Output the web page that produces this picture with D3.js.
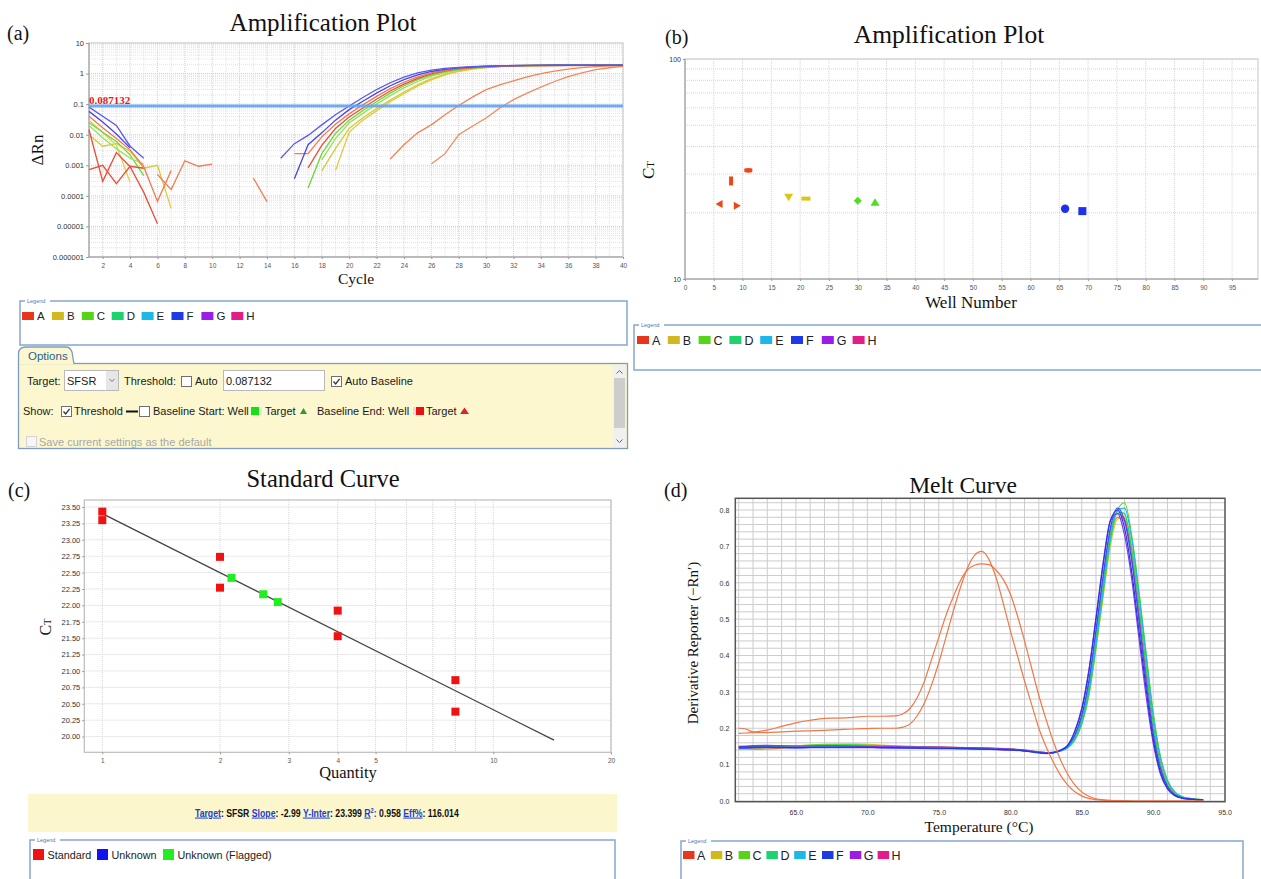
<!DOCTYPE html>
<html>
<head>
<meta charset="utf-8">
<script src="https://cdn.jsdelivr.net/npm/d3@7"></script>
<style>
body { margin: 0; background: #fff; }
svg { display: block; font-family: "Liberation Sans", Arial, sans-serif; }
.serif { font-family: "Liberation Serif", "Times New Roman", serif; fill: #111; }
</style>
</head>
<body>
<svg id="fig" width="1261" height="879"></svg>
<script>
// ---- shared legend ----
var wellLetters = ["A", "B", "C", "D", "E", "F", "G", "H"];
var wellColors = ["#e8361c", "#d2b81c", "#56d41c", "#1cd46e", "#1cb8e8", "#1c3ae6", "#9a1ce6", "#e41c8a"];

// ---- (a) amplification plot, ΔRn per cycle (each series starts at the cycle noted) ----
var cycleTicks = d3.range(2, 41, 2);
var drnTicks = [1e-6, 1e-5, 1e-4, 1e-3, 1e-2, 1e-1, 1, 10];
var threshold = 0.087132;

var ampF1 = [0.0017, 0.0051, 0.0095, 0.021, 0.045, 0.087, 0.165, 0.30, 0.50, 0.77, 1.06, 1.30, 1.48, 1.60, 1.70, 1.77, 1.81, 1.84, 1.86, 1.87, 1.88, 1.88, 1.89, 1.89, 1.90, 1.90]; // from 15
var ampF2 = [0.00036, 0.0047, 0.0115, 0.03, 0.066, 0.125, 0.23, 0.40, 0.63, 0.90, 1.17, 1.38, 1.53, 1.64, 1.72, 1.78, 1.82, 1.85, 1.86, 1.87, 1.88, 1.88, 1.89, 1.89, 1.89]; // from 16
var ampA1 = [0.0024, 0.0024, 0.0085, 0.022, 0.048, 0.095, 0.18, 0.32, 0.52, 0.78, 1.05, 1.28, 1.45, 1.57, 1.66, 1.72, 1.76, 1.79, 1.80, 1.81, 1.81, 1.82, 1.82, 1.82, 1.82]; // from 16
var ampA2 = [0.00082, 0.0045, 0.016, 0.038, 0.075, 0.145, 0.27, 0.45, 0.70, 0.98, 1.22, 1.42, 1.56, 1.66, 1.73, 1.78, 1.81, 1.83, 1.84, 1.85, 1.85, 1.85, 1.85, 1.85]; // from 17
var ampC1 = [0.00018, 0.0024, 0.011, 0.03, 0.062, 0.12, 0.23, 0.40, 0.63, 0.90, 1.15, 1.37, 1.53, 1.65, 1.74, 1.80, 1.84, 1.86, 1.88, 1.89, 1.89, 1.90, 1.90, 1.90]; // from 17
var ampC2 = [0.0015, 0.0075, 0.024, 0.05, 0.10, 0.19, 0.34, 0.55, 0.82, 1.08, 1.32, 1.50, 1.63, 1.72, 1.79, 1.83, 1.86, 1.88, 1.89, 1.90, 1.90, 1.90, 1.91]; // from 18
var ampB1 = [0.00066, 0.0035, 0.016, 0.036, 0.07, 0.135, 0.25, 0.43, 0.68, 0.96, 1.22, 1.43, 1.58, 1.70, 1.78, 1.83, 1.87, 1.89, 1.90, 1.91, 1.92, 1.92, 1.92]; // from 18
var ampB2 = [0.00068, 0.012, 0.03, 0.06, 0.12, 0.22, 0.39, 0.62, 0.90, 1.17, 1.40, 1.56, 1.68, 1.77, 1.83, 1.87, 1.89, 1.91, 1.92, 1.93, 1.93, 1.93]; // from 19
var ampA3 = [0.0016, 0.0047, 0.0115, 0.021, 0.045, 0.09, 0.17, 0.30, 0.43, 0.58, 0.78, 1.00, 1.20, 1.40, 1.57, 1.70, 1.79, 1.85]; // from 23
var ampA4 = [0.0011, 0.0024, 0.01, 0.019, 0.035, 0.075, 0.14, 0.23, 0.36, 0.55, 0.80, 1.06, 1.34, 1.55, 1.73]; // from 26
// early-cycle noise pieces
var noiseF1 = [0.08, 0.04, 0.02, 0.0042, 0.0017];
var noiseF2 = [0.058, 0.026, 0.0105, 0.0037];
var noiseA1 = [0.04, 0.017, 0.0075, 0.0032, 0.0009, 0.000066, 0.00068];
var noiseA2 = [0.0145, 0.0003, 0.0026, 0.0009, 0.00013, 0.0000122];
var noiseA3 = [0.00072, 0.001, 0.00025, 0.00093, 0.0008];
var noiseA4 = [0.0005, 0.00016, 0.0014, 0.00093, 0.0011]; // from 6
var noiseA5 = [0.00038, 0.000065]; // from 13
var noiseB1 = [0.01, 0.0042, 0.0051, 0.0029, 0.0008, 0.001, 0.000039];
var noiseB2 = [0.03, 0.012, 0.0045, 0.00028];
var noiseC1 = [0.025, 0.012, 0.006, 0.0022, 0.00046];
var noiseC2 = [0.02, 0.008, 0.0035, 0.0017, 0.0011];

// ---- (b) Ct by well ----
var ctWells = [6, 8, 9, 11, 18, 21, 30, 33, 66, 69];
var ctValues = [21.9, 27.9, 21.5, 31.2, 23.5, 23.2, 22.7, 22.3, 20.85, 20.35];
var ctRows = ["A", "A", "A", "A", "B", "B", "C", "C", "F", "F"];
var wellTicks = d3.range(0, 100, 5);

// ---- (c) standard curve ----
var stdQty = [1, 1, 2, 2, 4, 4, 8, 8];
var stdCt = [23.43, 23.30, 22.74, 22.27, 21.92, 21.53, 20.86, 20.38];
var flagQty = [2.14, 2.58, 2.81];
var flagCt = [22.42, 22.17, 22.05];
var fitSlope = -2.99, fitInter = 23.399, fitR2 = 0.958, fitEff = 116.014;
var fitQtyEnd = 14.3;
var qtyTicks = [1, 2, 3, 4, 5, 10, 20];
var ctTicks = d3.range(20, 23.51, 0.25);
var sampleTypes = ["Standard", "Unknown", "Unknown (Flagged)"];
var sampleColors = ["#f01212", "#1212f0", "#20ee20"];

// ---- (d) melt curve ----
var meltT = [61, 63, 65, 67, 69, 71, 73, 75, 77, 79, 81, 82, 82.5, 83, 83.5, 84, 84.5, 85, 85.5, 86, 86.5, 87, 87.5, 88, 88.5, 89, 89.5, 90, 90.5, 91, 91.5, 92, 93, 93.5];
var meltF1 = [0.148, 0.149, 0.147, 0.148, 0.148, 0.147, 0.146, 0.145, 0.144, 0.142, 0.138, 0.133, 0.131, 0.133, 0.139, 0.152, 0.19, 0.25, 0.355, 0.50, 0.65, 0.77, 0.80, 0.75, 0.63, 0.47, 0.31, 0.17, 0.08, 0.035, 0.015, 0.008, 0.004, 0.003];
var meltF2 = [0.145, 0.147, 0.146, 0.147, 0.147, 0.146, 0.145, 0.144, 0.143, 0.141, 0.137, 0.132, 0.130, 0.132, 0.138, 0.15, 0.18, 0.235, 0.33, 0.47, 0.62, 0.75, 0.805, 0.77, 0.66, 0.50, 0.33, 0.185, 0.09, 0.04, 0.018, 0.009, 0.004, 0.003];
var meltE = [0.146, 0.148, 0.147, 0.149, 0.149, 0.148, 0.147, 0.145, 0.144, 0.142, 0.138, 0.134, 0.132, 0.133, 0.137, 0.146, 0.17, 0.215, 0.30, 0.43, 0.58, 0.72, 0.80, 0.805, 0.72, 0.57, 0.40, 0.235, 0.12, 0.055, 0.025, 0.012, 0.005, 0.003];
var meltC = [0.143, 0.150, 0.152, 0.156, 0.155, 0.152, 0.149, 0.147, 0.146, 0.144, 0.139, 0.135, 0.133, 0.134, 0.138, 0.145, 0.165, 0.21, 0.29, 0.42, 0.57, 0.71, 0.80, 0.82, 0.73, 0.58, 0.41, 0.245, 0.125, 0.058, 0.026, 0.012, 0.005, 0.003];
var meltD = [0.147, 0.149, 0.150, 0.153, 0.153, 0.151, 0.148, 0.146, 0.145, 0.143, 0.138, 0.134, 0.132, 0.133, 0.138, 0.148, 0.175, 0.225, 0.315, 0.45, 0.60, 0.735, 0.795, 0.79, 0.69, 0.54, 0.37, 0.21, 0.10, 0.045, 0.02, 0.01, 0.004, 0.003];
var meltB = [0.141, 0.146, 0.150, 0.155, 0.157, 0.154, 0.150, 0.148, 0.147, 0.145, 0.140, 0.135, 0.133, 0.134, 0.138, 0.146, 0.168, 0.21, 0.29, 0.42, 0.56, 0.70, 0.775, 0.78, 0.70, 0.56, 0.40, 0.24, 0.12, 0.055, 0.024, 0.011, 0.005, 0.003];
var meltA = [0.142, 0.143, 0.148, 0.152, 0.154, 0.152, 0.150, 0.148, 0.146, 0.144, 0.139, 0.134, 0.132, 0.133, 0.138, 0.147, 0.172, 0.22, 0.305, 0.435, 0.585, 0.72, 0.78, 0.77, 0.68, 0.53, 0.37, 0.215, 0.105, 0.048, 0.021, 0.01, 0.004, 0.003];
var meltG = [0.150, 0.153, 0.151, 0.152, 0.151, 0.150, 0.149, 0.148, 0.147, 0.145, 0.140, 0.135, 0.133, 0.134, 0.140, 0.152, 0.19, 0.255, 0.36, 0.505, 0.655, 0.77, 0.79, 0.73, 0.61, 0.45, 0.29, 0.16, 0.075, 0.033, 0.015, 0.008, 0.004, 0.003];
var meltH = [0.149, 0.151, 0.150, 0.153, 0.152, 0.151, 0.149, 0.148, 0.146, 0.144, 0.139, 0.134, 0.132, 0.133, 0.139, 0.149, 0.178, 0.23, 0.32, 0.46, 0.61, 0.74, 0.79, 0.775, 0.67, 0.515, 0.35, 0.20, 0.095, 0.042, 0.019, 0.009, 0.004, 0.002];
// the two low-Tm wells
var meltTLow = [61, 61.5, 62, 63, 64, 65, 66, 67, 68, 69, 70, 71, 72, 72.5, 73, 73.5, 74, 74.5, 75, 75.5, 76, 76.5, 77, 77.5, 78, 78.5, 79, 79.5, 80, 80.5, 81, 81.5, 82, 82.5, 83, 83.5, 84, 84.5, 85, 85.5, 86, 87, 88, 89, 91, 93.5];
var meltLow1 = [0.20, 0.198, 0.19, 0.195, 0.205, 0.215, 0.222, 0.227, 0.228, 0.23, 0.233, 0.233, 0.234, 0.24, 0.255, 0.285, 0.33, 0.39, 0.45, 0.51, 0.56, 0.605, 0.635, 0.648, 0.652, 0.65, 0.635, 0.61, 0.57, 0.51, 0.44, 0.365, 0.29, 0.225, 0.165, 0.115, 0.075, 0.045, 0.025, 0.013, 0.006, 0.002, 0.001, 0.0, 0.0, 0.0];
var meltLow2 = [0.186, 0.187, 0.188, 0.188, 0.19, 0.192, 0.193, 0.194, 0.196, 0.198, 0.199, 0.20, 0.20, 0.203, 0.212, 0.235, 0.27, 0.32, 0.38, 0.45, 0.52, 0.585, 0.64, 0.675, 0.686, 0.665, 0.615, 0.545, 0.47, 0.40, 0.33, 0.265, 0.20, 0.15, 0.108, 0.072, 0.045, 0.026, 0.014, 0.007, 0.004, 0.001, 0.0, 0.0, 0.0, 0.0];

var svg = d3.select("#fig");

function addText(g, x, y, s, size, cls) {
  return g.append("text").attr("x", x).attr("y", y).attr("font-size", size).attr("class", cls || null).text(s);
}

function styleAxis(g, fs, col) {
  g.select(".domain").remove();
  g.selectAll(".tick line").attr("stroke", "#999");
  g.selectAll(".tick text").attr("font-size", fs).attr("fill", col)
    .attr("font-family", "Liberation Sans, Arial, sans-serif");
}

// legend box: opts = {xs, fs, sw, sh, swTop, textDy, gap}
function legendBox(x, y, w, h, labels, colors, o) {
  var g = svg.append("g");
  g.append("rect").attr("x", x).attr("y", y).attr("width", w).attr("height", h)
    .attr("fill", "#fff").attr("stroke", "#86a6cf").attr("stroke-width", 1.5);
  g.append("rect").attr("x", x + 5).attr("y", y - 3).attr("width", 25).attr("height", 6).attr("fill", "#fff");
  addText(g, x + 7, y + 2, "Legend", 5.5).attr("fill", "#4a78b8");
  labels.forEach(function(l, i) {
    var ix = o.xs[i];
    g.append("rect").attr("x", ix).attr("y", y + o.swTop).attr("width", o.sw).attr("height", o.sh).attr("fill", colors[i]);
    addText(g, ix + o.sw + o.gap, y + o.textDy, l, o.fs).attr("fill", "#222");
  });
  return g;
}

function checkbox(g, x, y, checked, disabled) {
  g.append("rect").attr("x", x + 0.5).attr("y", y + 0.5).attr("width", 10).attr("height", 10)
    .attr("fill", disabled ? "#f6f6f6" : "#fff").attr("stroke", disabled ? "#d4d4d4" : "#707070");
  if (checked) {
    g.append("path").attr("d", "M" + (x + 2.5) + "," + (y + 5.5) + " L" + (x + 4.7) + "," + (y + 8) + " L" + (x + 8.6) + "," + (y + 2.8))
      .attr("fill", "none").attr("stroke", "#333").attr("stroke-width", 1.3);
  }
}

// =============== (a) ===============
(function() {
  var g = svg.append("g");
  var x = d3.scaleLinear().domain([1, 40]).range([89, 623]);
  var y = d3.scaleLog().domain([1e-6, 10]).range([257, 43]);

  g.selectAll(".vg").data(d3.range(1, 41)).join("line")
    .attr("x1", d => x(d)).attr("x2", d => x(d)).attr("y1", 43).attr("y2", 257)
    .attr("stroke", d => d % 2 === 0 ? "#d0d0d0" : "#e4e4e4").attr("stroke-dasharray", "1,1");
  g.selectAll(".hg").data(y.ticks()).join("line")
    .attr("x1", 89).attr("x2", 623).attr("y1", d => y(d)).attr("y2", d => y(d))
    .attr("stroke", d => drnTicks.indexOf(d) >= 0 ? "#cfcfcf" : "#e2e2e2").attr("stroke-dasharray", "1,1");
  g.append("rect").attr("x", 89).attr("y", 43).attr("width", 534).attr("height", 214)
    .attr("fill", "none").attr("stroke", "#c8c8c8");
  g.append("line").attr("x1", 89).attr("x2", 89).attr("y1", 43).attr("y2", 257).attr("stroke", "#999");
  g.append("line").attr("x1", 89).attr("x2", 623).attr("y1", 257).attr("y2", 257).attr("stroke", "#999");

  var ya = g.append("g").attr("transform", "translate(89,0)")
    .call(d3.axisLeft(y).tickValues(drnTicks).tickSize(3).tickPadding(2)
      .tickFormat(d => d >= 1 ? String(d) : d.toFixed(Math.round(-Math.log10(d)))));
  styleAxis(ya, 7.5, "#333");
  var xa = g.append("g").attr("transform", "translate(0,257)")
    .call(d3.axisBottom(x).tickValues(cycleTicks).tickSize(2).tickPadding(4));
  styleAxis(xa, 6.5, "#555");

  var line = d3.line().x(d => x(d[0])).y(d => y(d[1]));
  var series = [
    [1, noiseB1, "#d6cc3a"], [1, noiseB2, "#e2d04a"], [1, noiseC1, "#6ad83a"], [1, noiseC2, "#98e058"],
    [1, noiseA3, "#e8503a"], [6, noiseA4, "#f07c52"], [13, noiseA5, "#f07c52"], [1, noiseA2, "#e8503a"],
    [1, noiseA1, "#f07850"], [1, noiseF2, "#4646e2"], [1, noiseF1, "#5a5aee"],
    [23, ampA3, "#f08456"], [26, ampA4, "#f08a5e"],
    [19, ampB2, "#e0c848"], [18, ampB1, "#d4cc34"], [18, ampC2, "#98e058"], [17, ampC1, "#6ad83a"],
    [17, ampA2, "#e8503a"], [16, ampA1, "#f07850"], [16, ampF2, "#4646e2"], [15, ampF1, "#5a5aee"]
  ];
  g.selectAll(".amp").data(series).join("path")
    .attr("d", s => line(s[1].map((v, i) => [s[0] + i, v])))
    .attr("fill", "none").attr("stroke", s => s[2]).attr("stroke-width", 1.3);

  g.append("line").attr("x1", 89).attr("x2", 623).attr("y1", y(threshold)).attr("y2", y(threshold))
    .attr("stroke", "#62a6f0").attr("stroke-width", 3).attr("opacity", 0.9);
  addText(g, 89, y(threshold) - 2, String(threshold), 11, "serif").attr("font-weight", "bold").style("fill", "#e81818");

  addText(g, 323, 31, "Amplification Plot", 25, "serif").attr("text-anchor", "middle");
  addText(g, 7, 40, "(a)", 20, "serif");
  addText(g, 356, 284, "Cycle", 15.5, "serif").attr("text-anchor", "middle");
  addText(g, 0, 0, "ΔRn", 17, "serif").attr("text-anchor", "middle").attr("transform", "translate(43,150) rotate(-90)");
})();

legendBox(20, 301, 607, 44, wellLetters, wellColors,
  { xs: wellLetters.map((l, i) => 22 + i * 29.9), fs: 11.5, sw: 12, sh: 8, swTop: 11, textDy: 19, gap: 3 });

// options panel
(function() {
  var g = svg.append("g");
  var fill = "#fcf7cf", border = "#7f9db9";
  g.append("rect").attr("x", 18.5).attr("y", 363.5).attr("width", 609).attr("height", 85)
    .attr("fill", fill).attr("stroke", border).attr("stroke-width", 1.3);
  g.append("path").attr("d", "M18.5,364 L18.5,354 Q18.5,347 26,347 L66,347 Q70,347 72,352 L74,364")
    .attr("fill", fill).attr("stroke", border).attr("stroke-width", 1.3);
  g.append("line").attr("x1", 19.5).attr("x2", 73).attr("y1", 363.5).attr("y2", 363.5).attr("stroke", fill).attr("stroke-width", 1.6);
  addText(g, 28, 360, "Options", 11.5).attr("fill", "#2d5f96");

  var fs = 11, c = "#1a1a1a";
  addText(g, 27, 385, "Target:", fs).attr("fill", c);
  g.append("rect").attr("x", 64.5).attr("y", 370.5).attr("width", 54).attr("height", 20).attr("fill", "#fff").attr("stroke", "#b9b9b9");
  g.append("rect").attr("x", 106).attr("y", 371).attr("width", 12).attr("height", 19).attr("fill", "#e6e6e6");
  g.append("path").attr("d", "M109.5,379 L112,381.5 L114.5,379").attr("fill", "none").attr("stroke", "#777");
  addText(g, 67, 385, "SFSR", fs).attr("fill", c);
  addText(g, 124, 385, "Threshold:", fs).attr("fill", c);
  checkbox(g, 181, 376, false);
  addText(g, 195, 385, "Auto", fs).attr("fill", c);
  g.append("rect").attr("x", 223.5).attr("y", 370.5).attr("width", 101).attr("height", 20).attr("fill", "#fff").attr("stroke", "#b9b9b9");
  addText(g, 226, 385, String(threshold), fs).attr("fill", c);
  checkbox(g, 331, 376, true);
  addText(g, 345, 385, "Auto Baseline", fs).attr("fill", c);

  addText(g, 23, 415, "Show:", fs).attr("fill", c);
  checkbox(g, 61, 406, true);
  addText(g, 74, 415, "Threshold", fs).attr("fill", c);
  g.append("line").attr("x1", 126).attr("x2", 138).attr("y1", 411.5).attr("y2", 411.5).attr("stroke", "#111").attr("stroke-width", 2);
  checkbox(g, 139, 406, false);
  addText(g, 153, 415, "Baseline Start: Well", fs).attr("fill", c);
  g.append("rect").attr("x", 251).attr("y", 407).attr("width", 8).attr("height", 8).attr("fill", "#18e018");
  g.append("rect").attr("x", 259).attr("y", 407).attr("width", 3).attr("height", 8).attr("fill", "#d8eed8");
  addText(g, 265, 415, "Target", fs).attr("fill", c);
  g.append("path").attr("d", "M300,414 L303.5,408 L307,414 Z").attr("fill", "#2f9a3a");
  addText(g, 317, 415, "Baseline End: Well", fs).attr("fill", c);
  g.append("rect").attr("x", 413).attr("y", 407).attr("width", 3).attr("height", 8).attr("fill", "#f0d6d6");
  g.append("rect").attr("x", 416).attr("y", 407).attr("width", 8).attr("height", 8).attr("fill", "#ee1010");
  addText(g, 426, 415, "Target", fs).attr("fill", c);
  g.append("path").attr("d", "M460,414 L464.5,407.5 L469,414 Z").attr("fill", "#d8262c");

  checkbox(g, 26, 436, false, true);
  addText(g, 39, 446, "Save current settings as the default", fs).attr("fill", "#a8a8a8");

  g.append("rect").attr("x", 613).attr("y", 365).attr("width", 13).attr("height", 82).attr("fill", "#f0f0f0");
  g.append("rect").attr("x", 614).attr("y", 378).attr("width", 11).attr("height", 50).attr("fill", "#cdcdcd");
  g.append("path").attr("d", "M616.5,373.5 L619.5,370.5 L622.5,373.5").attr("fill", "none").attr("stroke", "#666");
  g.append("path").attr("d", "M616.5,439.5 L619.5,442.5 L622.5,439.5").attr("fill", "none").attr("stroke", "#666");
})();

// =============== (b) ===============
(function() {
  var g = svg.append("g");
  var x = d3.scaleLinear().domain([0, 99.5]).range([685, 1258]);
  var y = d3.scaleLog().domain([10, 100]).range([279, 59]);

  g.selectAll(".vg").data(wellTicks).join("line")
    .attr("x1", d => x(d)).attr("x2", d => x(d)).attr("y1", 59).attr("y2", 279)
    .attr("stroke", "#d6d6d6").attr("stroke-dasharray", "1,1");
  g.selectAll(".hg").data(y.ticks()).join("line")
    .attr("x1", 685).attr("x2", 1258).attr("y1", d => y(d)).attr("y2", d => y(d))
    .attr("stroke", "#d6d6d6").attr("stroke-dasharray", "1,1");
  g.append("rect").attr("x", 685).attr("y", 59).attr("width", 573).attr("height", 220)
    .attr("fill", "none").attr("stroke", "#c8c8c8");
  g.append("line").attr("x1", 685).attr("x2", 685).attr("y1", 59).attr("y2", 279).attr("stroke", "#999");
  g.append("line").attr("x1", 685).attr("x2", 1258).attr("y1", 279).attr("y2", 279).attr("stroke", "#999");

  var ya = g.append("g").attr("transform", "translate(685,0)")
    .call(d3.axisLeft(y).tickValues([10, 100]).tickSize(2).tickPadding(2).tickFormat(d3.format("d")));
  styleAxis(ya, 7, "#333");
  var xa = g.append("g").attr("transform", "translate(0,279)")
    .call(d3.axisBottom(x).tickValues(wellTicks).tickSize(2).tickPadding(4));
  styleAxis(xa, 6.5, "#555");

  var shapes = ["triL", "barV", "triR", "barH", "triD", "barH2", "diamond", "triU", "circle", "square"];
  var rowFill = { A: "#ee4618", B: "#d8c618", C: "#4ee01c", F: "#1c30ee" };
  function shapePath(s) {
    switch (s) {
      case "triL": return "M-4,0 L3,-4 L3,4 Z";
      case "triR": return "M4,0 L-3,-4 L-3,4 Z";
      case "triD": return "M-4.5,-3.5 L4.5,-3.5 L0,4 Z";
      case "triU": return "M-4.5,3.5 L4.5,3.5 L0,-4 Z";
      case "barV": return "M-2,-4.5 L2,-4.5 L2,4.5 L-2,4.5 Z";
      case "barH": return "M-4,-1.8 Q0,-3 4,-1.8 L4,1.8 Q0,3 -4,1.8 Z";
      case "barH2": return "M-4.5,-2 L4.5,-2 L4.5,2 L-4.5,2 Z";
      case "diamond": return "M0,-4 L4,0 L0,4 L-4,0 Z";
      case "circle": return d3.symbol(d3.symbolCircle, 55)();
      default: return "M-4,-4 L4,-4 L4,4 L-4,4 Z";
    }
  }
  g.selectAll(".ct").data(ctWells).join("path")
    .attr("transform", (d, i) => "translate(" + x(d) + "," + y(ctValues[i]) + ")")
    .attr("d", (d, i) => shapePath(shapes[i]))
    .attr("fill", (d, i) => rowFill[ctRows[i]]);

  addText(g, 949, 43, "Amplification Plot", 25.5, "serif").attr("text-anchor", "middle");
  addText(g, 665, 44, "(b)", 20, "serif");
  addText(g, 971, 308, "Well Number", 17, "serif").attr("text-anchor", "middle");
  var ct = g.append("text").attr("class", "serif").attr("text-anchor", "middle").attr("font-size", 17)
    .attr("transform", "translate(654,170) rotate(-90)");
  ct.append("tspan").text("C");
  ct.append("tspan").attr("font-size", 11).text("T");
})();

legendBox(634, 325, 640, 45, wellLetters, wellColors,
  { xs: wellLetters.map((l, i) => 637 + i * 30.8), fs: 12.5, sw: 12, sh: 8, swTop: 11, textDy: 19.5, gap: 3 });

// =============== (c) ===============
(function() {
  var g = svg.append("g");
  var x = d3.scaleLog().domain([1, 20]).range([102.3, 611]);
  var y = d3.scaleLinear().domain([19.76, 23.607]).range([752.3, 500]);
  var L = 84.3, R = 611, T = 500, B = 752.3;

  g.selectAll(".vg").data([1, 2, 3, 4, 5, 6, 7, 8, 9, 10, 20]).join("line")
    .attr("x1", d => x(d)).attr("x2", d => x(d)).attr("y1", T).attr("y2", B)
    .attr("stroke", "#d4d4d4").attr("stroke-dasharray", "1,1");
  g.selectAll(".hg").data(ctTicks).join("line")
    .attr("x1", L).attr("x2", R).attr("y1", d => y(d)).attr("y2", d => y(d))
    .attr("stroke", "#d4d4d4").attr("stroke-dasharray", "1,1");
  g.append("rect").attr("x", L).attr("y", T).attr("width", R - L).attr("height", B - T)
    .attr("fill", "none").attr("stroke", "#bdbdbd").attr("stroke-width", 1.2);

  var ya = g.append("g").attr("transform", "translate(" + L + ",0)")
    .call(d3.axisLeft(y).tickValues(ctTicks).tickSize(2).tickPadding(2).tickFormat(d3.format(".2f")));
  styleAxis(ya, 7.5, "#333");
  var xa = g.append("g").attr("transform", "translate(0," + B + ")")
    .call(d3.axisBottom(x).tickValues(qtyTicks).tickSize(2).tickPadding(4).tickFormat(d3.format("d")));
  styleAxis(xa, 6.5, "#555");

  g.append("line")
    .attr("x1", x(1)).attr("y1", y(fitInter))
    .attr("x2", x(fitQtyEnd)).attr("y2", y(fitInter + fitSlope * Math.log10(fitQtyEnd)))
    .attr("stroke", "#444").attr("stroke-width", 1.3);

  g.selectAll(".std").data(stdQty).join("rect")
    .attr("x", d => x(d) - 4).attr("y", (d, i) => y(stdCt[i]) - 4).attr("width", 8).attr("height", 8).attr("fill", sampleColors[0]);
  g.selectAll(".flag").data(flagQty).join("rect")
    .attr("x", d => x(d) - 4).attr("y", (d, i) => y(flagCt[i]) - 4).attr("width", 8).attr("height", 8).attr("fill", sampleColors[2]);

  addText(g, 323, 487, "Standard Curve", 24.5, "serif").attr("text-anchor", "middle");
  addText(g, 8, 497, "(c)", 20, "serif");
  addText(g, 348, 778, "Quantity", 16.5, "serif").attr("text-anchor", "middle");
  var ct = g.append("text").attr("class", "serif").attr("text-anchor", "middle").attr("font-size", 16)
    .attr("transform", "translate(51,627) rotate(-90)");
  ct.append("tspan").text("C");
  ct.append("tspan").attr("font-size", 10.5).text("T");

  // summary bar
  g.append("rect").attr("x", 28).attr("y", 794).attr("width", 589).attr("height", 38).attr("fill", "#fcf6cc");
  var t = g.append("text").attr("transform", "translate(195,816.5) scale(0.87,1)")
    .attr("font-size", 10).attr("font-weight", "bold").attr("fill", "#111");
  function link(s) { t.append("tspan").attr("fill", "#1a3fd0").attr("text-decoration", "underline").text(s); }
  function plain(s) { t.append("tspan").text(s); }
  link("Target"); plain(": SFSR "); link("Slope"); plain(": " + fitSlope.toFixed(2) + " ");
  link("Y-Inter"); plain(": " + fitInter.toFixed(3) + " "); link("R");
  t.append("tspan").attr("fill", "#1a3fd0").attr("font-size", 6.5).attr("dy", -4).text("2");
  t.append("tspan").attr("dy", 4).attr("fill", "#1a3fd0").text(":");
  plain(" " + fitR2.toFixed(3) + " "); link("Eff%"); plain(": " + fitEff.toFixed(3));
})();

legendBox(30, 840, 585, 60, sampleTypes, sampleColors,
  { xs: [33, 97, 163], fs: 10.8, sw: 11, sh: 11, swTop: 9, textDy: 19, gap: 3.5 });

// =============== (d) ===============
(function() {
  var g = svg.append("g");
  var x = d3.scaleLinear().domain([60.76, 95]).range([735.3, 1224.6]);
  var y = d3.scaleLinear().domain([0, 0.8]).range([801, 510]);
  var L = 735.3, R = 1225, T = 498.3, B = 801.7;

  g.selectAll(".vg").data(d3.range(61, 95)).join("line")
    .attr("x1", d => x(d)).attr("x2", d => x(d)).attr("y1", T).attr("y2", B)
    .attr("stroke", "#cccccc");
  g.selectAll(".hg").data(d3.range(0, 0.83, 0.02)).join("line")
    .attr("x1", L).attr("x2", R).attr("y1", d => y(d)).attr("y2", d => y(d))
    .attr("stroke", "#cccccc");

  var line = d3.line().x(d => x(d[0])).y(d => y(d[1])).curve(d3.curveMonotoneX);
  var main = [
    [meltA, "#f07a40"], [meltB, "#e0c828"], [meltH, "#e04070"], [meltD, "#28d070"], [meltC, "#52dc34"],
    [meltE, "#22b6e8"], [meltG, "#8a3ae8"], [meltF2, "#3a4cf0"], [meltF1, "#2434e6"]
  ];
  g.selectAll(".m").data(main).join("path")
    .attr("d", s => line(s[0].map((v, i) => [meltT[i], v])))
    .attr("fill", "none").attr("stroke", s => s[1]).attr("stroke-width", 1.2);
  g.selectAll(".lo").data([meltLow1, meltLow2]).join("path")
    .attr("d", s => line(s.map((v, i) => [meltTLow[i], v])))
    .attr("fill", "none").attr("stroke", "#f07848").attr("stroke-width", 1.2);

  g.append("rect").attr("x", L).attr("y", T).attr("width", R - L).attr("height", B - T)
    .attr("fill", "none").attr("stroke", "#555").attr("stroke-width", 1.5);

  var ya = g.append("g").attr("transform", "translate(" + L + ",0)")
    .call(d3.axisLeft(y).tickValues(d3.range(0, 0.81, 0.1)).tickSize(0).tickPadding(6).tickFormat(d3.format(".1f")));
  styleAxis(ya, 7, "#333");
  var xa = g.append("g").attr("transform", "translate(0," + B + ")")
    .call(d3.axisBottom(x).tickValues(d3.range(65, 96, 5)).tickSize(0).tickPadding(8).tickFormat(d3.format(".1f")));
  styleAxis(xa, 7, "#333");

  addText(g, 963, 493, "Melt Curve", 23.5, "serif").attr("text-anchor", "middle");
  addText(g, 664, 497, "(d)", 20, "serif");
  addText(g, 979, 832, "Temperature (°C)", 15.5, "serif").attr("text-anchor", "middle");
  addText(g, 0, 0, "Derivative Reporter (−Rn′)", 15, "serif").attr("text-anchor", "middle")
    .attr("transform", "translate(698,643) rotate(-90)");
})();

legendBox(681, 841, 562, 60, wellLetters, wellColors,
  { xs: wellLetters.map((l, i) => 683 + i * 27.8), fs: 12.5, sw: 11.5, sh: 8, swTop: 10, textDy: 18.5, gap: 2.5 });
</script>
</body>
</html>
